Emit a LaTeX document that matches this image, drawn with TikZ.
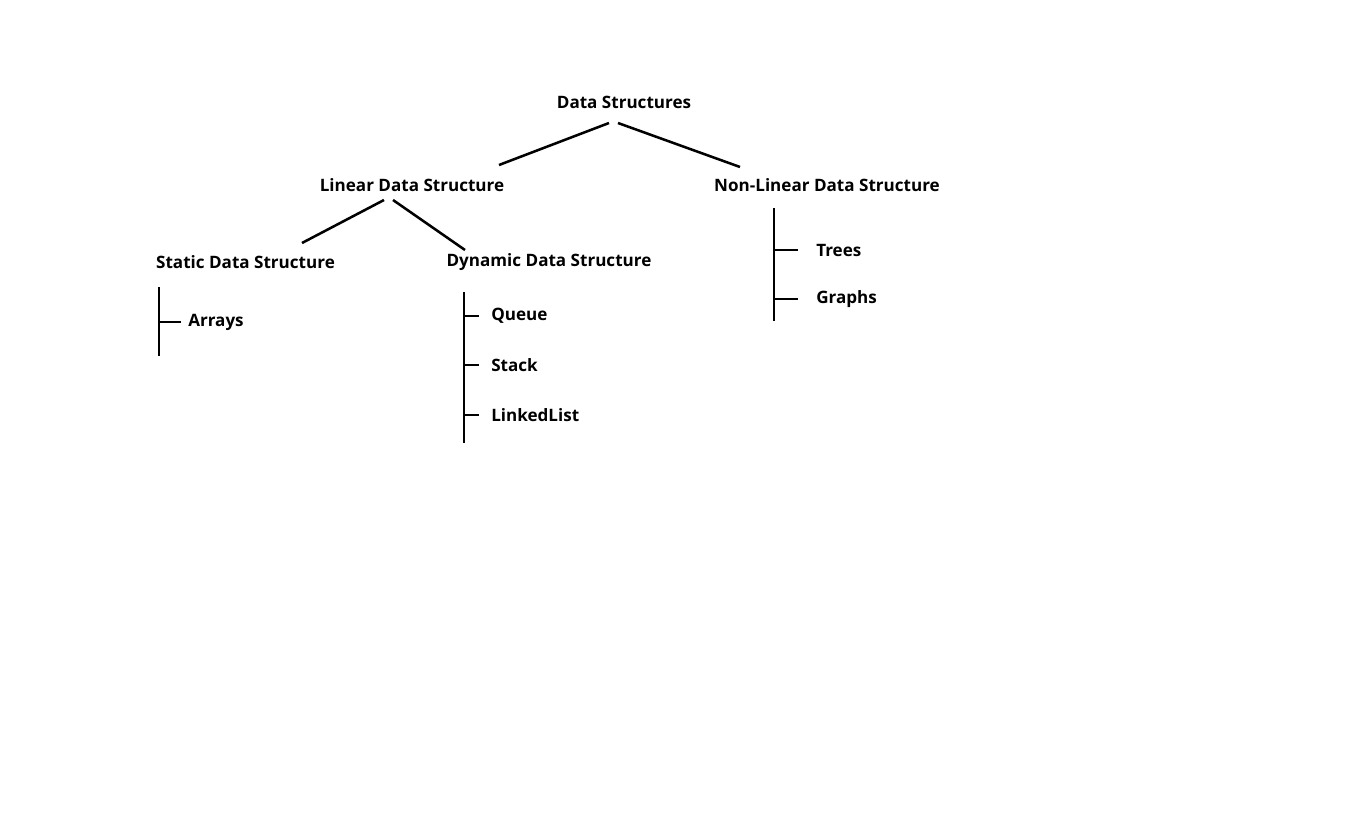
\documentclass[tikz,border=0pt]{standalone}
\usepackage{fontspec}
\setmainfont{Open Sans}
\usetikzlibrary{calc}

\begin{document}
\begin{tikzpicture}[x=0.75pt,y=-0.75pt,
lbl/.style={font=\bfseries\fontsize{12.8}{15}\selectfont,inner sep=0pt},
leaf/.style={lbl,anchor=west},
edge/.style={line width=1.9pt}]
\useasboundingbox (0,0) rectangle (1358,831);
% levels of the tree
\node[lbl] (ds) at (624,102) {Data Structures};
\node[lbl] (lin) at (412,185) {Linear Data Structure};
\node[lbl] (nonlin) at (827,185) {Non-Linear Data Structure};
\node[lbl] (stat) at (245.5,262) {Static Data Structure};
\node[lbl] (dyn) at (549,262) {Dynamic Data Structure};
% leaves
\node[leaf] (arr) at (188,322) {Arrays};
\node[leaf] (queue) at (491,316) {Queue};
\node[leaf] (stack) at (491,365) {Stack};
\node[leaf] (llist) at (491,415) {LinkedList};
\node[leaf] (trees) at (816,250) {Trees};
\node[leaf] (graphs) at (816,299) {Graphs};
% branches
\draw[edge] ($(ds)+(-15,21)$) -- ($(lin)+(87,-20)$);
\draw[edge] ($(ds)+(-6,21)$) -- ($(nonlin)+(-87,-18)$);
\draw[edge] ($(lin)+(-28,15)$) -- ($(stat)+(56.5,-19)$);
\draw[edge] ($(lin)+(-19,15)$) -- ($(dyn)+(-84,-12)$);
% list bars
\coordinate (sbar) at ($(arr.west)+(-29,-35)$);
\coordinate (dbar) at ($(queue.west)+(-27,-24)$);
\coordinate (nbar) at ($(trees.west)+(-42,-42)$);
\draw[edge] (sbar) -- ++(0,69);
\draw[edge] (dbar) -- ++(0,151);
\draw[edge] (nbar) -- ++(0,113);
\draw[edge] (sbar |- arr.west) -- ++(22,0);
\foreach \n in {queue,stack,llist}
  \draw[edge] (dbar |- \n.west) -- ++(15,0);
\foreach \n in {trees,graphs}
  \draw[edge] (nbar |- \n.west) -- ++(24,0);
\end{tikzpicture}
\end{document}
